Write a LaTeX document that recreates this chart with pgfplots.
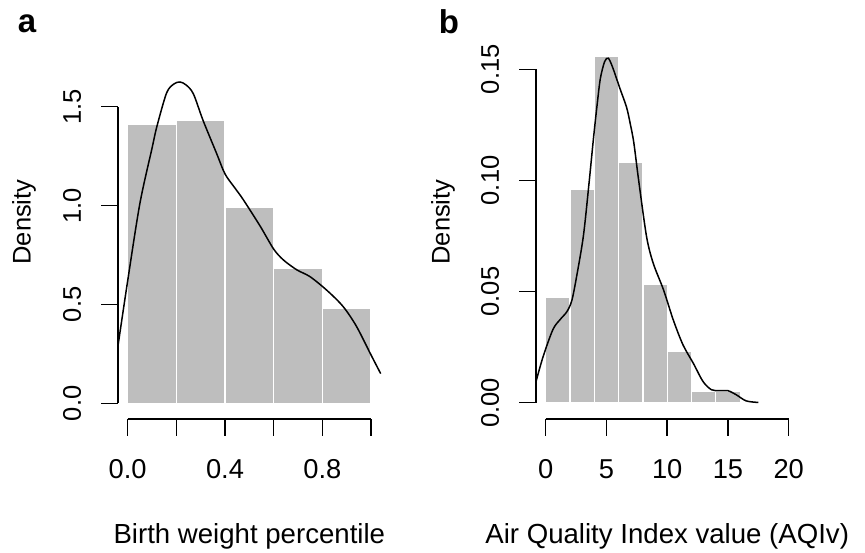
\documentclass[border=0pt]{standalone}
\usepackage{fontspec}
\setmainfont{Liberation Sans}
\usepackage{pgfplots}
\pgfplotsset{compat=1.18}
\definecolor{rgrey}{RGB}{190,190,190}
\newcommand\ticksize{\fontsize{27.3}{32}\selectfont}
\newcommand\yticksize{\fontsize{25.5}{30}\selectfont}
\newcommand\xlabsize{\fontsize{27.6}{32}\selectfont}
\pgfplotsset{
  rstyle/.style={
    scale only axis,
    clip=false,
    axis x line*=bottom,
    axis y line*=left,
    axis line style={draw=none},
    tick align=outside,
    major tick length=16.7pt,
    every tick/.style={black, line width=1.5pt},
    /pgf/number format/assume math mode=true,
    xticklabel style={font=\ticksize, anchor=base, yshift=-43.3pt},
    yticklabel style={font=\yticksize, xshift=-20.5pt, rotate=90, anchor=base},
    ylabel style={font=\yticksize, anchor=center},
    xlabel style={font=\xlabsize, anchor=base},
  }
}
\begin{document}
\begin{tikzpicture}
\path[use as bounding box] (0,0) rectangle (865pt,553pt);

% ---------------- panel a ----------------
\begin{axis}[rstyle,
  at={(117.97pt,134pt)}, anchor=south west,
  width=262.73pt, height=407pt,
  xmin=-0.04, xmax=1.04, ymin=-0.0794, ymax=1.979,
  xtick={0,0.2,0.4,0.6,0.8,1.0},
  xticklabels={0.0,,0.4,,0.8,},
  ytick={0,0.5,1,1.5},
  yticklabels={0.0,0.5,1.0,1.5},
  xlabel={Birth weight percentile},
  xlabel style={at={(axis description cs:0.5,-0.3052)}},
  ylabel={Density},
  ylabel style={at={(axis description cs:-0.3577,0.484)}},
]
\addplot[ybar, bar width=0.2, bar shift=0pt, fill=rgrey, draw=white, line width=1.2pt]
  coordinates {(0.1,1.41) (0.3,1.43) (0.5,0.99) (0.7,0.68) (0.9,0.48)};
\addplot[black, line width=1.5pt, smooth, tension=0.5] coordinates {
  (-0.04,0.29) (0.0,0.62) (0.05,1.01) (0.10,1.29) (0.12,1.40) (0.16,1.57)
  (0.19,1.615) (0.215,1.625) (0.24,1.61) (0.27,1.565) (0.31,1.43)
  (0.365,1.265) (0.40,1.16) (0.44,1.09) (0.475,1.03) (0.545,0.895)
  (0.60,0.78) (0.64,0.725) (0.695,0.675) (0.75,0.64) (0.82,0.57)
  (0.885,0.49) (0.94,0.39) (1.0,0.245) (1.04,0.15)};
\draw[black, line width=1.5pt] (axis cs:0,-0.0794) -- (axis cs:1,-0.0794);
\draw[black, line width=1.5pt] (axis cs:-0.04,0) -- (axis cs:-0.04,1.5);
\end{axis}

% ---------------- panel b ----------------
\begin{axis}[rstyle,
  at={(536pt,134pt)}, anchor=south west,
  width=262.44pt, height=407pt,
  xmin=-0.8, xmax=20.8, ymin=-0.00734, ymax=0.1758,
  xtick={0,5,10,15,20},
  xticklabels={0,5,10,15,20},
  ytick={0,0.05,0.10,0.15},
  yticklabels={0.00,0.05,0.10,0.15},
  xlabel={Air Quality Index value (AQIv)},
  xlabel style={at={(axis description cs:0.5,-0.3052)}},
  ylabel={Density},
  ylabel style={at={(axis description cs:-0.3544,0.484)}},
]
\addplot[ybar, bar width=2, bar shift=0pt, fill=rgrey, draw=white, line width=1.2pt]
  coordinates {(1,0.0475) (3,0.096) (5,0.156) (7,0.108) (9,0.053) (11,0.023) (13,0.005) (15,0.005)};
\addplot[black, line width=1.5pt, smooth, tension=0.5] coordinates {
  (-0.8,0.0095) (-0.2,0.021) (0.6,0.033) (1.2,0.0375) (1.75,0.041) (2.15,0.046)
  (2.55,0.057) (3.1,0.075) (3.55,0.098) (3.95,0.12) (4.25,0.135) (4.5,0.146)
  (4.85,0.1535) (5.15,0.155) (5.5,0.151) (6.1,0.1415) (6.65,0.133) (6.95,0.1257)
  (7.25,0.117) (7.65,0.100) (8.3,0.0747) (8.85,0.0627) (9.7,0.0507) (10.5,0.0372)
  (11.3,0.026) (12.15,0.0177) (12.95,0.0095) (13.65,0.0058) (14.35,0.0054)
  (15.0,0.0054) (15.7,0.0035) (16.5,0.0008) (17.5,0.0001)};
\draw[black, line width=1.5pt] (axis cs:0,-0.00734) -- (axis cs:20,-0.00734);
\draw[black, line width=1.5pt] (axis cs:-0.8,0) -- (axis cs:-0.8,0.15);
\end{axis}

\node[font=\bfseries\fontsize{33}{38}\selectfont, anchor=center] at (27pt,529pt) {a};
\node[font=\bfseries\fontsize{33}{38}\selectfont, anchor=center] at (449pt,531pt) {b};
\end{tikzpicture}
\end{document}
